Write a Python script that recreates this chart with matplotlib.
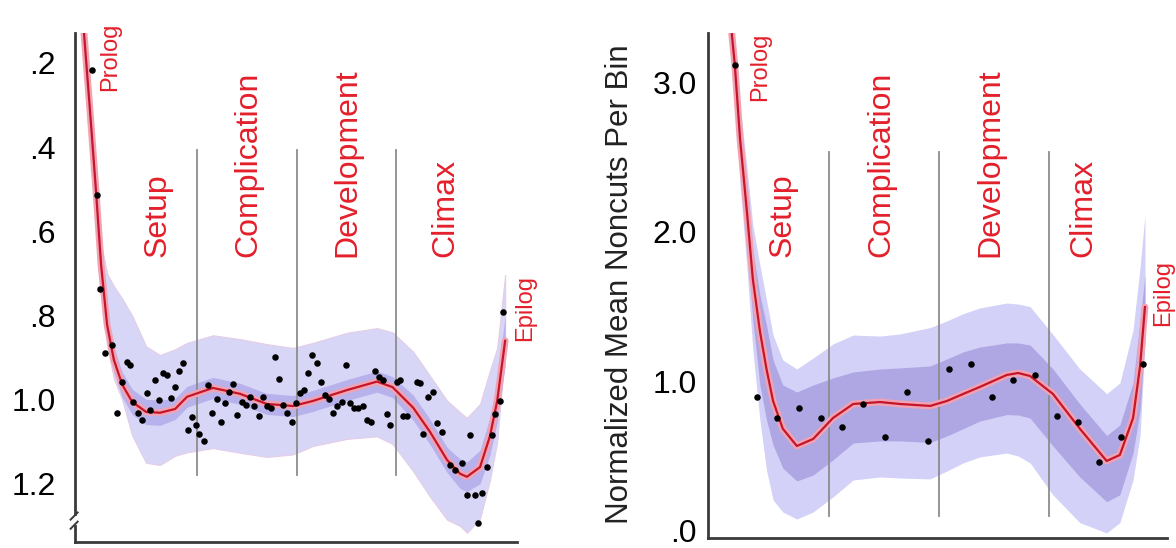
import matplotlib
matplotlib.use('Agg')
import matplotlib.pyplot as plt
from matplotlib.lines import Line2D

plt.rcParams['font.family'] = ['Liberation Sans', 'DejaVu Sans']

# ---------------- shared ----------------
act_bounds = [25, 50, 75]
acts = ['Setup', 'Complication', 'Development', 'Climax']

# ---------------- left panel data (x = % of narrative, y = value, inverted axis) ----------------
L_curve_x = [-3.4, -1.9, -0.4, 0.9, 2.4, 4.1, 6.2, 8.7, 12.2, 15.7, 19.5, 22.5, 29.0, 35.8, 42.5,
             49.1, 54.1, 62.7, 70.2, 74.1, 79.3, 83.5, 87.8, 91.1, 92.8, 96.1, 98.6, 100.4, 102.4]
L_curve_y = [0.129, 0.312, 0.502, 0.680, 0.822, 0.905, 0.964, 1.005, 1.029, 1.031, 1.022, 0.993, 0.972,
             0.986, 1.010, 1.015, 1.003, 0.977, 0.957, 0.970, 1.019, 1.076, 1.143, 1.176, 1.183, 1.160,
             1.086, 1.003, 0.860]
L_outer_top = [0.12, 0.29, 0.47, 0.63, 0.70, 0.73, 0.76, 0.80, 0.873, 0.894, 0.880, 0.865, 0.847, 0.856,
               0.868, 0.877, 0.865, 0.841, 0.830, 0.840, 0.886, 0.943, 1.002, 1.030, 1.043, 1.010, 0.930,
               0.877, 0.704]
L_outer_bot = [0.14, 0.335, 0.535, 0.72, 0.87, 0.95, 1.00, 1.085, 1.15, 1.155, 1.133, 1.125, 1.115, 1.126,
               1.136, 1.13, 1.110, 1.093, 1.087, 1.105, 1.17, 1.23, 1.285, 1.300, 1.316, 1.283, 1.19,
               1.10, 0.88]
L_inner_half = [0.005, 0.01, 0.015, 0.02, 0.025, 0.03, 0.03, 0.03, 0.03, 0.03, 0.025, 0.025, 0.025, 0.025,
                0.025, 0.025, 0.025, 0.025, 0.025, 0.025, 0.03, 0.03, 0.03, 0.035, 0.035, 0.04, 0.045,
                0.05, 0.06]
L_dots_x = [-1.46, -0.20, 0.63, 1.88, 3.57, 4.82, 6.08, 7.34, 8.17, 8.92, 10.18, 11.11, 12.36, 13.19,
            14.45, 15.45, 16.38, 17.39, 18.39, 19.47, 20.48, 21.48, 22.66, 23.67, 24.67, 25.50, 26.76,
            27.76, 28.77, 29.95, 31.03, 32.04, 33.04, 34.05, 35.05, 36.23, 37.24, 38.32, 39.32, 40.50,
            41.51, 42.51, 43.52, 44.60, 45.60, 46.61, 47.61, 48.79, 49.87, 50.88, 51.88, 52.89, 53.89,
            55.08, 56.08, 57.16, 58.17, 59.17, 60.18, 61.36, 62.36, 63.44, 64.45, 65.45, 66.63, 67.64,
            68.64, 69.72, 70.73, 71.73, 72.66, 73.49, 75.18, 76.01, 76.76, 77.69, 80.20, 81.03, 81.78,
            83.04, 84.30, 85.30, 86.48, 88.57, 89.82, 91.51, 92.76, 93.59, 94.85, 95.60, 96.53, 97.79,
            99.05, 99.87, 101.13, 101.88]
L_dots_y = [0.216, 0.514, 0.737, 0.889, 0.870, 1.031, 0.957, 0.910, 0.917, 1.005, 1.031, 1.048, 0.984,
            1.024, 0.953, 1.000, 0.936, 0.941, 0.996, 0.969, 0.933, 0.913, 1.073, 1.040, 1.060, 1.081,
            1.097, 0.965, 1.031, 0.998, 1.054, 1.008, 0.981, 0.962, 1.036, 1.005, 1.012, 0.993, 1.016,
            1.038, 0.993, 1.015, 1.019, 0.898, 0.951, 1.012, 1.031, 1.054, 1.008, 0.984, 0.977, 0.936,
            0.894, 0.912, 0.957, 0.989, 0.998, 1.031, 1.016, 1.005, 0.917, 1.007, 1.019, 1.019, 1.015,
            1.048, 1.053, 0.933, 0.946, 0.953, 1.035, 1.060, 0.957, 0.953, 1.039, 1.039, 0.957, 0.960,
            1.081, 0.993, 0.981, 1.055, 1.076, 1.155, 1.167, 1.150, 1.226, 1.085, 1.226, 1.292, 1.221,
            1.160, 1.085, 1.035, 1.002, 0.791]
L_yticks = [0.2, 0.4, 0.6, 0.8, 1.0, 1.2]
L_yticklabels = ['.2', '.4', '.6', '.8', '1.0', '1.2']
L_act_x = [15.0, 37.8, 62.7, 87.3]

# ---------------- right panel data ----------------
R_curve_x = [2.9, 3.6, 4.8, 6.3, 7.7, 9.3, 10.8, 12.3, 14.5, 17.7, 21.4, 25.9, 30.5, 36.6, 41.1, 48.0,
             51.8, 55.5, 59.3, 65.4, 68.0, 70.7, 75.9, 82.0, 88.1, 91.1, 94.1, 95.7, 96.8]
R_curve_y = [3.329, 3.118, 2.620, 2.152, 1.684, 1.337, 1.083, 0.869, 0.684, 0.568, 0.615, 0.755, 0.849,
             0.862, 0.849, 0.836, 0.869, 0.916, 0.963, 1.043, 1.056, 1.036, 0.916, 0.684, 0.468, 0.508,
             0.755, 1.103, 1.497]
R_outer_hi = [3.416, 3.282, 2.848, 2.447, 2.045, 1.778, 1.544, 1.310, 1.143, 1.083, 1.156, 1.250, 1.310,
              1.303, 1.317, 1.360, 1.404, 1.453, 1.491, 1.524, 1.517, 1.500, 1.313, 1.083, 0.918, 0.989,
              1.344, 1.765, 2.112]
R_mid_hi = [3.382, 3.215, 2.747, 2.313, 1.878, 1.578, 1.377, 1.143, 0.976, 0.929, 0.976, 1.023, 1.063,
            1.083, 1.090, 1.103, 1.150, 1.197, 1.230, 1.257, 1.257, 1.243, 1.083, 0.849, 0.638, 0.709,
            0.989, 1.410, 1.711]
R_mid_lo = [3.282, 3.015, 2.447, 1.945, 1.410, 0.976, 0.742, 0.575, 0.421, 0.334, 0.374, 0.475, 0.588,
            0.602, 0.602, 0.592, 0.635, 0.684, 0.735, 0.778, 0.775, 0.755, 0.568, 0.361, 0.196, 0.242,
            0.521, 0.809, 1.277]
R_outer_lo = [3.249, 2.914, 2.313, 1.778, 1.210, 0.742, 0.408, 0.207, 0.127, 0.080, 0.127, 0.227, 0.341,
              0.361, 0.354, 0.348, 0.401, 0.455, 0.495, 0.521, 0.501, 0.455, 0.241, 0.056, -0.013, 0.056,
              0.341, 0.642, 1.243]
R_dots_x = [3.6, 8.6, 13.2, 18.2, 23.1, 28.0, 32.7, 37.7, 42.7, 47.5, 52.3, 57.2, 62.0, 66.8, 71.8,
            76.8, 81.5, 86.4, 91.3, 96.3]
R_dots_y = [3.118, 0.896, 0.755, 0.822, 0.755, 0.695, 0.849, 0.628, 0.929, 0.602, 1.083, 1.116, 0.896,
            1.009, 1.045, 0.769, 0.731, 0.463, 0.628, 1.116]
R_yticks = [0, 1, 2, 3]
R_yticklabels = ['.0', '1.0', '2.0', '3.0']
R_act_x = [14.5, 37.0, 61.6, 82.7]
R_ylabel = 'Normalized Mean Noncuts Per Bin'

RED = '#e3202b'
LINE_RED = '#c3162b'
GLOW = '#f2a3b3'
DIV = '#8c8c8c'
SPINE = '#3a3a3a'

fig = plt.figure(figsize=(11.76, 5.48), dpi=100)

# ================= LEFT =================
axL = fig.add_axes([0.0638, 0.01095, 0.3759, 0.9288])
axL.set_xlim(-5.65, 105.4)
axL.set_ylim(1.338, 0.129)
axL.fill_between(L_curve_x, L_outer_top, L_outer_bot, color='#d8d6f7', lw=0.8,
                 edgecolor='#e4cde6', zorder=1)
inner_lo = [c - h for c, h in zip(L_curve_y, L_inner_half)]
inner_hi = [c + h for c, h in zip(L_curve_y, L_inner_half)]
axL.fill_between(L_curve_x, inner_lo, inner_hi, color='#b7b2ec', lw=0, zorder=2)
for b in act_bounds:
    axL.plot([b, b], [0.407, 1.18], color=DIV, lw=1.3, zorder=3)
axL.plot(L_curve_x, L_curve_y, color=GLOW, lw=5, solid_capstyle='round',
         solid_joinstyle='round', zorder=4)
axL.plot(L_curve_x, L_curve_y, color=LINE_RED, lw=1.6, solid_joinstyle='round', zorder=5)
axL.scatter(L_dots_x, L_dots_y, s=22, color='black', zorder=6, linewidths=0)

axL.set_yticks(L_yticks)
axL.set_yticklabels(L_yticklabels, fontsize=23)
axL.set_xticks([])
axL.tick_params(axis='y', length=0, pad=14)
for s in ['top', 'right', 'left']:
    axL.spines[s].set_visible(False)
axL.spines['bottom'].set_color(SPINE)
axL.spines['bottom'].set_linewidth(2)
# left spine with a break mark near the bottom
axL.add_line(Line2D([0, 0], [1, 0.055], transform=axL.transAxes, color=SPINE, lw=2, clip_on=False))
axL.add_line(Line2D([0, 0], [0.032, 0], transform=axL.transAxes, color=SPINE, lw=2, clip_on=False))
axL.add_line(Line2D([-0.010, 0.006], [0.044, 0.058], transform=axL.transAxes, color=SPINE, lw=1.4,
                    clip_on=False))
axL.add_line(Line2D([-0.010, 0.006], [0.026, 0.040], transform=axL.transAxes, color=SPINE, lw=1.4,
                    clip_on=False))

for name, xpos in zip(acts, L_act_x):
    axL.text(xpos, 0.661, name, rotation=90, rotation_mode='anchor', ha='left', va='center',
             color=RED, fontsize=23)
axL.text(3.1, 0.267, 'Prolog', rotation=90, rotation_mode='anchor', ha='left', va='center',
         color=RED, fontsize=17)
axL.text(107.4, 0.860, 'Epilog', rotation=90, rotation_mode='anchor', ha='left', va='center',
         color=RED, fontsize=17, clip_on=False)

# ================= RIGHT =================
axR = fig.add_axes([0.602, 0.01825, 0.3903, 0.9215])
axR.set_xlim(-2.5, 101.8)
axR.set_ylim(-0.047, 3.329)
axR.fill_between(R_curve_x, R_outer_lo, R_outer_hi, color='#d3d1f7', lw=0, zorder=1)
axR.fill_between(R_curve_x, R_mid_lo, R_mid_hi, color='#aea7e4', lw=0, zorder=2)
for b in act_bounds:
    axR.plot([b, b], [0.102, 2.536], color=DIV, lw=1.3, zorder=3)
axR.plot(R_curve_x, R_curve_y, color=GLOW, lw=5, solid_capstyle='round',
         solid_joinstyle='round', zorder=4)
axR.plot(R_curve_x, R_curve_y, color=LINE_RED, lw=1.6, solid_joinstyle='round', zorder=5)
axR.scatter(R_dots_x, R_dots_y, s=22, color='black', zorder=6, linewidths=0)

axR.set_yticks(R_yticks)
axR.set_yticklabels(R_yticklabels, fontsize=23)
axR.set_xticks([])
axR.tick_params(axis='y', length=0, pad=8)
for s in ['top', 'right']:
    axR.spines[s].set_visible(False)
for s in ['left', 'bottom']:
    axR.spines[s].set_color(SPINE)
    axR.spines[s].set_linewidth(2)

for name, xpos in zip(acts, R_act_x):
    axR.text(xpos, 1.83, name, rotation=90, rotation_mode='anchor', ha='left', va='center',
             color=RED, fontsize=23)
axR.text(9.3, 2.874, 'Prolog', rotation=90, rotation_mode='anchor', ha='left', va='center',
         color=RED, fontsize=17)
axR.text(100.9, 1.370, 'Epilog', rotation=90, rotation_mode='anchor', ha='left', va='center',
         color=RED, fontsize=17, clip_on=False)

fig.text(620 / 1176, 1 - 284 / 548, R_ylabel, rotation=90, ha='center', va='center',
         fontsize=22.5, color='#222222')

fig.savefig('out.png', dpi=100)
